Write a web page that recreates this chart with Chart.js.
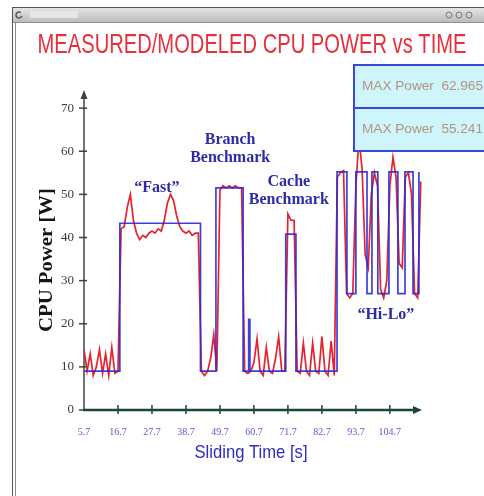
<!DOCTYPE html>
<html>
<head>
<meta charset="utf-8">
<script src="https://cdn.jsdelivr.net/npm/chart.js@4.4.1/dist/chart.umd.min.js"></script>
<style>
  html, body { margin: 0; padding: 0; background: #fff; }
  canvas { display: block; }
</style>
</head>
<body>
<canvas id="powerCanvas" width="484" height="496"></canvas>
<script>
// measured power, one sample per second starting at 5.7 s
const measuredStart = 5.7;
const measuredPower = [
  14, 9, 13, 8, 10, 14, 8.5, 13, 8, 14.5, 8.5, 9,
  42, 42.5, 47, 50, 44, 41, 39.5, 40.5, 40, 41, 41.5, 41, 42, 41.5, 44, 48, 50, 48.5, 45, 42.5, 41.5, 41, 41.5, 40.5, 41, 41,
  9, 8, 9, 12, 17.5, 9,
  51, 52, 51.5, 52, 51.5, 52, 51.5, 51.5,
  9, 8.5, 9, 11, 16.5, 9, 8, 14.5, 9, 8.5, 12, 17, 9, 9,
  45.5, 44, 44,
  9, 8.5, 15.5, 9, 8, 15.5, 9, 8.5, 17, 9, 8, 16, 8,
  54, 55, 55.5, 27, 26, 27, 52, 62.9, 56, 36, 33, 50, 55, 52, 28, 26, 30, 52, 58.6, 54, 34, 33, 54, 55, 50, 27, 26, 53
];

// modeled power as step changes (time [s], watts from that time on)
const modelTimes = [5.7, 17.3, 43.4, 48.4, 57.2, 59.0, 59.4, 71.0, 74.3, 87.6, 90.8, 93.7, 97.3, 98.9, 100.8, 104.4, 107.3, 109.6, 112.2, 114.1];
const modelPower = [9, 43.3, 9, 51.5, 9, 21, 9, 40.8, 9, 55.2, 27, 55.2, 27, 55.2, 27, 55.2, 27, 55.2, 27, 55.2];

const timeTicks = [5.7, 16.7, 27.7, 38.7, 49.7, 60.7, 71.7, 82.7, 93.7, 104.7];
const powerTicks = [0, 10, 20, 30, 40, 50, 60, 70];
const maxLabels = ["MAX Power  62.965", "MAX Power  55.241"];

const notes = [
  { lines: ["\u201CFast\u201D"], t: 29.3, w: 51.5 },
  { lines: ["Branch", "Benchmark"], t: 53.0, w: 62.6 },
  { lines: ["Cache", "Benchmark"], t: 72.0, w: 52.9 },
  { lines: ["\u201CHi-Lo\u201D"], t: 103.4, w: 22.0 },
];

const measuredPoints = measuredPower.map((v, i) => ({ x: +(measuredStart + i).toFixed(1), y: v }));
const modelPoints = modelTimes.map((t, i) => ({ x: t, y: modelPower[i] }));

function fitText(ctx, text, x, y, width) {
  const w = ctx.measureText(text).width;
  ctx.save();
  ctx.translate(x, y);
  ctx.scale(width / w, 1);
  ctx.fillText(text, 0, 0);
  ctx.restore();
}

const framePlugin = {
  id: "frame",
  beforeDraw: (chart) => {
    const ctx = chart.ctx;
    ctx.save();
    ctx.fillStyle = "#fff";
    ctx.fillRect(0, 0, chart.width, chart.height);
    // window title bar
    const g = ctx.createLinearGradient(0, 8, 0, 22);
    g.addColorStop(0, "#e4e4e4");
    g.addColorStop(1, "#bcbcbc");
    ctx.fillStyle = g;
    ctx.fillRect(13, 8, 471, 14);
    ctx.fillStyle = "#e6e6e6";
    ctx.fillRect(30, 11, 48, 7);
    ctx.strokeStyle = "#4a5a5a";
    ctx.lineWidth = 1;
    ctx.beginPath();
    ctx.moveTo(12, 7.5); ctx.lineTo(484, 7.5);
    ctx.moveTo(12.5, 7.5); ctx.lineTo(12.5, 496);
    ctx.stroke();
    ctx.strokeStyle = "#8a9090";
    ctx.beginPath();
    ctx.moveTo(13, 22.5); ctx.lineTo(484, 22.5);
    ctx.moveTo(15.5, 22); ctx.lineTo(15.5, 496);
    ctx.stroke();
    ctx.strokeStyle = "#555";
    ctx.lineWidth = 1.5;
    ctx.beginPath();
    ctx.arc(19, 15, 3, 0.3, Math.PI * 1.7);
    ctx.stroke();
    ctx.strokeStyle = "#777";
    ctx.lineWidth = 1;
    [449, 459, 469].forEach((x) => {
      ctx.beginPath();
      ctx.arc(x, 15, 3, 0, Math.PI * 2);
      ctx.stroke();
    });
    ctx.restore();
  },
  beforeDatasetsDraw: (chart) => {
    const { ctx, chartArea: { left, right, top, bottom } } = chart;
    const xs = chart.scales.x, ys = chart.scales.y;
    ctx.save();
    // y axis with arrow
    ctx.strokeStyle = "#3a4444";
    ctx.fillStyle = "#3a4444";
    ctx.lineWidth = 1.5;
    ctx.beginPath();
    ctx.moveTo(left, bottom); ctx.lineTo(left, top + 4);
    ctx.stroke();
    ctx.beginPath();
    ctx.moveTo(left - 3.5, top + 9); ctx.lineTo(left, top); ctx.lineTo(left + 3.5, top + 9);
    ctx.fill();
    ys.ticks.forEach((tk) => {
      const y = ys.getPixelForValue(tk.value);
      ctx.beginPath();
      ctx.moveTo(left - 5, y); ctx.lineTo(left + 3, y);
      ctx.stroke();
    });
    // x axis with arrow
    ctx.strokeStyle = "#1d433b";
    ctx.fillStyle = "#1d433b";
    ctx.lineWidth = 2.5;
    ctx.beginPath();
    ctx.moveTo(left - 1, bottom); ctx.lineTo(right - 4, bottom);
    ctx.stroke();
    ctx.beginPath();
    ctx.moveTo(right - 9, bottom - 4); ctx.lineTo(right, bottom); ctx.lineTo(right - 9, bottom + 4);
    ctx.fill();
    ctx.lineWidth = 1.5;
    xs.ticks.forEach((tk, i) => {
      if (i === 0) return;
      const x = xs.getPixelForValue(tk.value);
      ctx.beginPath();
      ctx.moveTo(x, bottom - 5); ctx.lineTo(x, bottom + 4);
      ctx.stroke();
    });
    ctx.restore();
  },
  afterDraw: (chart) => {
    const ctx = chart.ctx;
    const xs = chart.scales.x, ys = chart.scales.y;
    ctx.save();
    // title
    ctx.fillStyle = "#e8303c";
    ctx.font = "28px 'Liberation Sans', Arial, sans-serif";
    ctx.textAlign = "center";
    ctx.textBaseline = "alphabetic";
    fitText(ctx, "MEASURED/MODELED CPU POWER vs TIME", 252, 53, 429);
    // x axis title
    ctx.fillStyle = "#2b2bc4";
    ctx.font = "19px 'Liberation Sans', Arial, sans-serif";
    fitText(ctx, "Sliding Time [s]", 251, 458, 113);
    // y axis title
    ctx.save();
    ctx.translate(52, 260);
    ctx.rotate(-Math.PI / 2);
    ctx.fillStyle = "#151515";
    ctx.font = "bold 19px 'Liberation Serif', 'Times New Roman', serif";
    fitText(ctx, "CPU Power [W]", 0, 0, 144);
    ctx.restore();
    // notes
    ctx.fillStyle = "#2c2ca6";
    ctx.font = "bold 16px 'Liberation Serif', 'Times New Roman', serif";
    ctx.textBaseline = "middle";
    notes.forEach((n) => {
      const x = xs.getPixelForValue(n.t);
      const y = ys.getPixelForValue(n.w);
      n.lines.forEach((line, i) => ctx.fillText(line, x, y + i * 18));
    });
    // max power boxes
    maxLabels.forEach((label, i) => {
      const y = 65 + i * 43;
      ctx.fillStyle = "#cdf5fa";
      ctx.fillRect(354, y, 140, 43);
      ctx.strokeStyle = "#3a46d6";
      ctx.lineWidth = 2;
      ctx.strokeRect(354, y, 140, 43);
      ctx.fillStyle = "#b4927f";
      ctx.font = "12px 'Liberation Sans', Arial, sans-serif";
      ctx.textAlign = "left";
      fitText(ctx, label, 362, y + 22, 121);
    });
    ctx.restore();
  },
};

const config = {
  type: "line",
  data: {
    datasets: [
      {
        label: "Measured",
        data: measuredPoints,
        borderColor: "#e8222c",
        borderWidth: 1.7,
        pointRadius: 0,
        tension: 0,
        order: 2,
      },
      {
        label: "Modeled",
        data: modelPoints,
        borderColor: "rgba(42, 42, 214, 0.9)",
        borderWidth: 1.7,
        pointRadius: 0,
        stepped: "before",
        order: 1,
      },
    ],
  },
  options: {
    responsive: false,
    animation: false,
    devicePixelRatio: 1,
    layout: { padding: { left: 44, right: 62, top: 90, bottom: 46 } },
    plugins: {
      legend: { display: false },
      tooltip: { enabled: false },
    },
    scales: {
      x: {
        type: "linear",
        min: 5.7,
        max: 115.1,
        afterBuildTicks: (scale) => { scale.ticks = timeTicks.map((v) => ({ value: v })); },
        afterFit: (scale) => { scale.height = 40; },
        grid: { display: false, drawTicks: false },
        border: { display: false },
        ticks: {
          autoSkip: false,
          maxRotation: 0,
          padding: 16,
          color: "#5a5ad2",
          font: { family: "'Liberation Serif', serif", size: 10 },
          callback: (v) => v.toFixed(1),
        },
      },
      y: {
        min: 0,
        max: 74.2,
        afterBuildTicks: (scale) => { scale.ticks = powerTicks.map((v) => ({ value: v })); },
        afterFit: (scale) => { scale.width = 40; },
        grid: { display: false, drawTicks: false },
        border: { display: false },
        ticks: {
          padding: 10,
          color: "#3a3a3a",
          font: { family: "'Liberation Serif', serif", size: 13 },
        },
      },
    },
  },
  plugins: [framePlugin],
};

const canvas = document.getElementById("powerCanvas");
new Chart(canvas.getContext("2d"), config);
</script>
</body>
</html>
